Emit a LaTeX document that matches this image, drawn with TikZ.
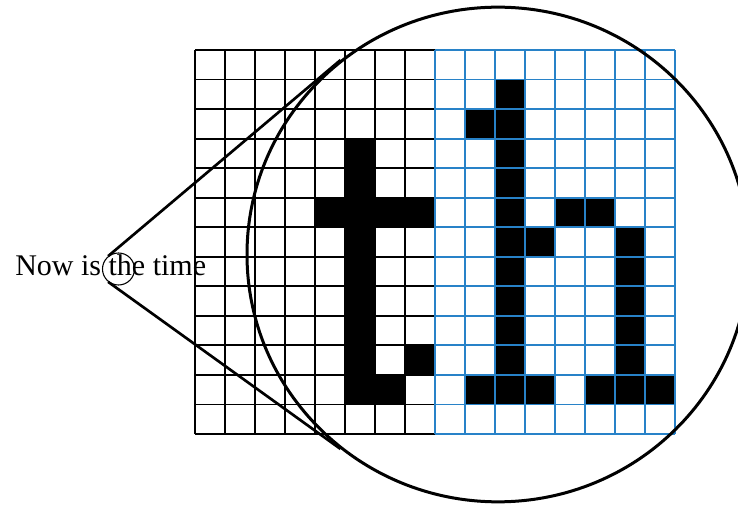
\documentclass[tikz,border=0pt]{standalone}
\usepackage{fontspec}
\setmainfont{Liberation Serif}
\usetikzlibrary{shapes.geometric}
\definecolor{gridblue}{RGB}{40,130,200}
\begin{document}
\begin{tikzpicture}[x=0.75pt,y=-0.75pt,every node/.style={font=\fontsize{22.5}{27}\selectfont}]
\useasboundingbox (0,0) rectangle (738,505);
\begin{scope}[shift={(195,434)},x=22.5pt,y=22.155pt]
\fill (5,1) rectangle (6,10);
\fill (4,7) rectangle (8,8);
\fill (5,1) rectangle (7,2);
\fill (7,2) rectangle (8,3);
\fill (10,1) rectangle (11,12);
\fill (9,10) rectangle (10,11);
\fill (12,7) rectangle (14,8);
\fill (11,6) rectangle (12,7);
\fill (14,1) rectangle (15,7);
\fill (9,1) rectangle (12,2);
\fill (13,1) rectangle (16,2);
\draw[line width=1.4pt,step=1] (0,0) grid (8,13);
\draw[gridblue,line width=1.4pt,step=1] (8,0) grid (16,13);
\end{scope}
\node[anchor=base west,inner sep=0] (a) at (15,276) {Now is the time};
\node[draw,circle,inner sep=0,minimum size=24pt,line width=0.8pt] (b) at (118.5,269) {};
\node[draw,ellipse,inner sep=0,minimum width=376.5pt,minimum height=371pt,line width=2.25pt] (c) at (498,254.5) {};
\draw[line width=2pt] (b.129) -- (c.129);
\draw[line width=2pt] (b.231) -- (c.231);
\end{tikzpicture}
\end{document}
